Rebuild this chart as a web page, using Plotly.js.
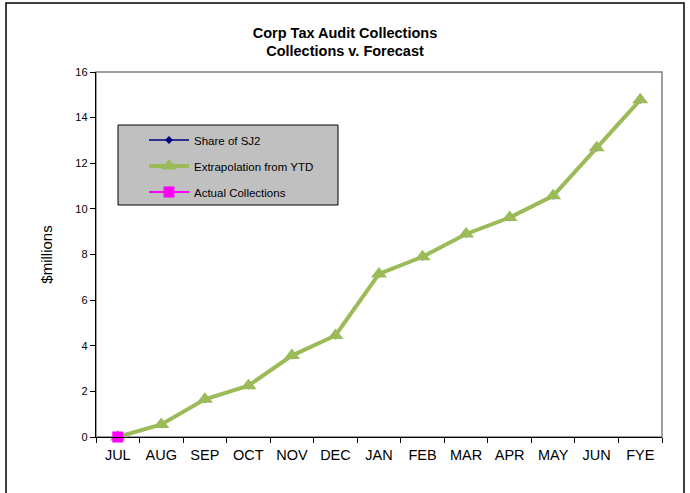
<!DOCTYPE html>
<html><head><meta charset="utf-8">
<script src="https://cdn.plot.ly/plotly-3.0.1.min.js"></script>
<style>html,body{margin:0;padding:0;background:#fff}#c{width:690px;height:493px}</style>
</head><body><div id="c"></div>
<script>
var months = ["JUL","AUG","SEP","OCT","NOV","DEC","JAN","FEB","MAR","APR","MAY","JUN","FYE"];
var shareSJ2 = [0,0.55,1.65,2.25,3.57,4.45,7.15,7.9,8.9,9.62,10.57,12.68,14.78];
var extrapolation = [0,0.55,1.65,2.25,3.57,4.45,7.15,7.9,8.9,9.62,10.57,12.68,14.78];
var actualMonths = ["JUL"];
var actual = [0];
var yTicks = [0,2,4,6,8,10,12,14,16];

var L=96, R=662, T=72, B=437, W=690, H=493;
var px = function(v){return (v-L)/(R-L);};
var py = function(v){return (B-v)/(B-T);};
var traces = [
 {x:months, y:shareSJ2, name:"Share of SJ2", legendgroup:"a", mode:"lines+markers", type:"scatter",
  line:{color:"#000080", width:1.5}, marker:{symbol:"diamond", size:6, color:"#000080"}, cliponaxis:false},
 {x:months, y:extrapolation, name:"Extrapolation from YTD", legendgroup:"b", mode:"lines+markers", type:"scatter",
  line:{color:"#9bbb59", width:4}, marker:{symbol:"triangle-up", size:14, color:"#9bbb59"}, cliponaxis:false},
 {x:actualMonths, y:actual, name:"Actual Collections", legendgroup:"c", mode:"lines+markers", type:"scatter",
  line:{color:"#ff00ff", width:2}, marker:{symbol:"square", size:11, color:"#ff00ff"}, cliponaxis:false}
];
var layout = {
 width:W, height:H, paper_bgcolor:"#fff", plot_bgcolor:"#fff",
 margin:{l:L, r:W-R, t:T, b:H-B, pad:0},
 font:{family:"Liberation Sans, Arial, sans-serif", color:"#000"},
 title:{text:"<b>Corp Tax Audit Collections<br>Collections v. Forecast</b>", font:{size:14.5}, x:0.5, xanchor:"center", y:1-37.5/H, yanchor:"middle"},
 xaxis:{type:"category", categoryorder:"array", categoryarray:months, range:[-0.5,12.5],
   showline:true, linecolor:"#000", linewidth:1.2, ticks:"outside", ticklen:5, tickcolor:"#000",
   tickson:"boundaries", showgrid:false, zeroline:false, tickfont:{size:14.5}, ticklabelstandoff:4},
 yaxis:{range:[0,16], tickvals:yTicks, showline:true, linecolor:"#000", linewidth:1.2, ticks:"outside",
   ticklen:5, tickcolor:"#000", showgrid:false, zeroline:false, tickfont:{size:11},
   title:{text:"$millions", font:{size:15}, standoff:19}},
 legend:{x:px(144), y:py(125.5), xanchor:"left", yanchor:"top", bgcolor:"rgba(0,0,0,0)",
   borderwidth:0, font:{size:11.5}, itemwidth:40, tracegroupgap:7,
   traceorder:"grouped"},
 showlegend:true,
 shapes:[
  {type:"rect", xref:"paper", yref:"paper", x0:0, x1:1, y0:0, y1:1, line:{color:"#808080", width:1.5}, layer:"below"},
  {type:"rect", xref:"paper", yref:"paper", x0:px(118), x1:px(338), y0:py(205), y1:py(125), fillcolor:"#c0c0c0", line:{color:"#000", width:1}, layer:"above"},
  {type:"rect", xref:"paper", yref:"paper", x0:px(6), x1:px(684), y0:py(497), y1:py(3), line:{color:"#000", width:1.5}, layer:"below"}
 ]
};
Plotly.newPlot("c", traces, layout, {displayModeBar:false, staticPlot:true});
</script></body></html>
